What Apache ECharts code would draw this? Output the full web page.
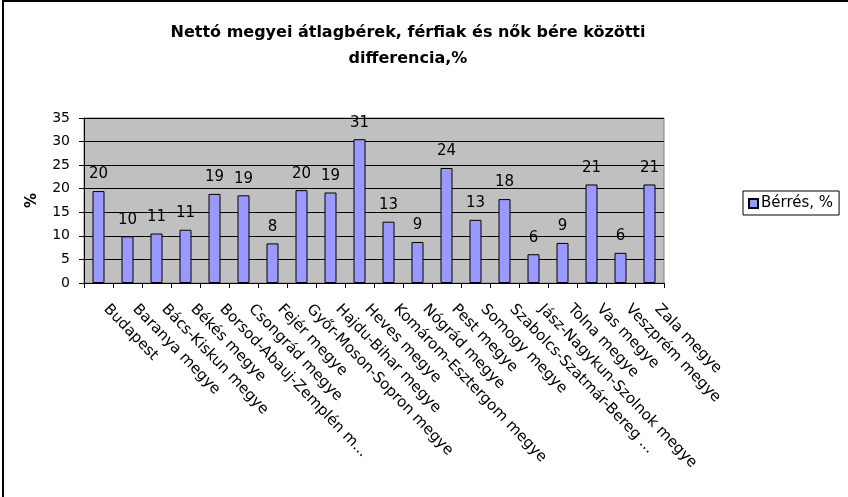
<!DOCTYPE html>
<html>
<head>
<meta charset="utf-8">
<script src="https://cdn.jsdelivr.net/npm/echarts@6/dist/echarts.min.js"></script>
<style>
html, body { margin: 0; padding: 0; background: #fff; }
#main { width: 848px; height: 497px; }
</style>
</head>
<body>
<div id="main"></div>
<script>
var chartDom = document.getElementById('main');
var myChart = echarts.init(chartDom);
var option;

// megyék (a feliratok úgy, ahogy az ábrán látszanak)
var megyek = [
    'Budapest', 'Baranya megye', 'Bács-Kiskun megye', 'Békés megye',
    'Borsod-Abauj-Zemplén m...', 'Csongrád megye', 'Fejér megye',
    'Győr-Moson-Sopron megye', 'Hajdu-Bihar megye', 'Heves megye',
    'Komárom-Esztergom megye', 'Nógrád megye', 'Pest megye', 'Somogy megye',
    'Szabolcs-Szatmár-Bereg ...', 'Jász-Nagykun-Szolnok megye', 'Tolna megye',
    'Vas megye', 'Veszprém megye', 'Zala megye'
];
// bérrés, %
var berres = [19.5, 9.9, 10.5, 11.3, 18.9, 18.6, 8.4, 19.7, 19.2, 30.5,
    13.0, 8.7, 24.4, 13.4, 17.8, 6.1, 8.5, 20.9, 6.4, 20.9];
var yTicks = [0, 5, 10, 15, 20, 25, 30, 35];

var betu = 'DejaVu Sans';

option = {
    backgroundColor: '#fff',
    animation: false,
    title: {
        text: 'Nettó megyei átlagbérek, férfiak és nők bére közötti\ndifferencia,%',
        left: 403,
        textAlign: 'center',
        top: 15,
        textStyle: {
            fontFamily: betu,
            fontWeight: 'bold',
            fontSize: 16,
            lineHeight: 26,
            color: '#000'
        }
    },
    //keret
    graphic: [{
        type: 'rect',
        shape: { x: 3, y: 1, width: 1000, height: 1000 },
        style: { fill: 'none', stroke: '#000', lineWidth: 2 }
    }],
    legend: {
        data: ['Bérrés, %'],
        left: 743,
        top: 191,
        orient: 'vertical',
        icon: 'rect',
        itemWidth: 9,
        itemHeight: 9,
        itemGap: 0,
        padding: [5, 6, 4, 5],
        borderColor: '#000',
        borderWidth: 1,
        textStyle: { fontFamily: betu, fontSize: 15, color: '#000', padding: [0, 0, 0, -2] }
    },
    grid: {
        left: 84,
        right: 184,
        top: 118,
        bottom: 214,
        show: true,
        backgroundColor: '#c0c0c0',
        borderColor: '#808080',
        borderWidth: 1,
        containLabel: false
    },
    xAxis: {
        type: 'category',
        data: megyek,
        axisLine: { lineStyle: { color: '#000', width: 1 } },
        axisTick: { show: true, length: 5, lineStyle: { color: '#000' } },
        axisLabel: {
            interval: 0,
            rotate: -46,
            margin: 16,
            padding: [0, 0, 0, 11],
            fontFamily: betu,
            fontSize: 15,
            color: '#000'
        }
    },
    yAxis: {
        type: 'value',
        min: 0,
        max: 35,
        interval: 5,
        name: '%',
        nameLocation: 'middle',
        nameGap: 44,
        nameRotate: 90,
        nameTextStyle: { fontFamily: betu, fontSize: 15, fontWeight: 'bold', color: '#000' },
        axisLine: { show: true, lineStyle: { color: '#000', width: 1 } },
        axisTick: { show: true, length: 5, lineStyle: { color: '#000' } },
        axisLabel: {
            margin: 14,
            fontFamily: betu,
            fontSize: 14,
            color: '#000',
            formatter: function (v) { return yTicks.indexOf(v) >= 0 ? String(v) : ''; }
        },
        splitLine: { show: true, lineStyle: { color: '#000', width: 1 } }
    },
    series: [{
        name: 'Bérrés, %',
        type: 'bar',
        data: berres,
        barWidth: 12,
        itemStyle: { color: '#9999ff', borderColor: '#000', borderWidth: 1 },
        label: {
            show: true,
            position: 'top',
            distance: 9,
            fontFamily: betu,
            fontSize: 15,
            color: '#000',
            formatter: function (p) { return Math.round(p.value); }
        }
    }]
};

myChart.setOption(option);
</script>
</body>
</html>
